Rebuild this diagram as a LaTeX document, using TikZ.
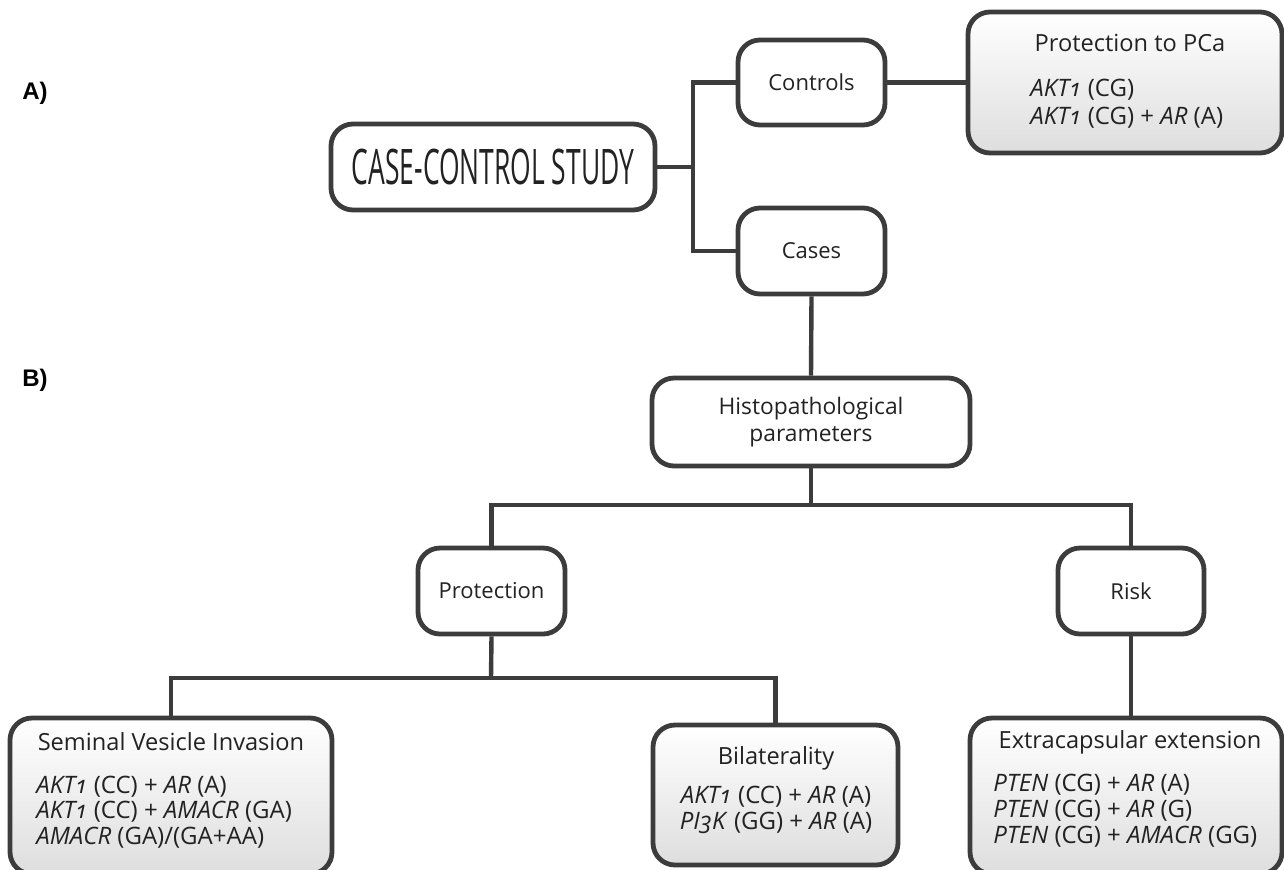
\documentclass[tikz,border=0pt]{standalone}
\usepackage{fontspec}
\setmainfont{Open Sans}[Numbers=OldStyle]
\newfontfamily\condfont{Open Sans}[FakeStretch=0.54]
\newfontfamily\labfont{Liberation Sans}
\definecolor{edge}{HTML}{3C3C3C}
\definecolor{txt}{HTML}{222222}
\tikzset{
 box/.style={draw=edge, line width=2.4pt, rounded corners=11pt, fill=white, inner sep=0pt, text=txt},
 resbox/.style={box, top color=white, bottom color=black!13},
 conn/.style={draw=edge, line width=2.2pt},
 ttl/.style={text=txt, inner sep=0pt, font=\fontsize{11.8}{13}\selectfont},
 body/.style={text=txt, inner sep=0pt, align=left},
 lab/.style={text=black, inner sep=0pt, font=\labfont\bfseries\fontsize{12}{14}\selectfont},
}
\begin{document}
\begin{tikzpicture}[x=0.5pt,y=-0.5pt, font=\fontsize{11}{13}\selectfont]
\useasboundingbox (0,0) rectangle (1284,869);

\node[lab] (la) at (35,93) {A)};
\node[lab] (lb) at (35,380) {B)};

\node[box, minimum width=162pt, minimum height=43pt, font=\condfont\fontsize{24.5}{26}\selectfont] (ccs) at (493,167) {CASE-CONTROL STUDY};
\node[box, minimum width=73.5pt, minimum height=42.5pt] (controls) at (811.5,82.5) {Controls};
\node[box, minimum width=73.5pt, minimum height=43pt] (cases) at (811.5,251) {Cases};
\node[resbox, minimum width=157pt, minimum height=70.5pt] (pca) at (1125,82.5) {};
\node[box, minimum width=159pt, minimum height=44pt, align=center, font=\fontsize{11.4}{13.8}\selectfont] (histo) at (811,422) {Histopathological\\parameters};
\node[box, minimum width=73.5pt, minimum height=43pt] (prot) at (491.5,591) {Protection};
\node[box, minimum width=73pt, minimum height=43pt] (risk) at (1131,591) {Risk};
\node[resbox, minimum width=161pt, minimum height=78pt] (svi) at (171,796) {};
\node[resbox, minimum width=122.5pt, minimum height=70pt] (bilat) at (775.5,795) {};
\node[resbox, minimum width=156pt, minimum height=78pt] (extra) at (1126,796) {};

\node[ttl] (pcat) at (1130,43) {Protection to PCa};
\node[body, anchor=west, font=\fontsize{12}{14}\selectfont] (pcab) at (1030,104) {\textit{AKT1} (CG)\\\textit{AKT1} (CG) + \textit{AR} (A)};

\node[ttl] (svit) at (171,742) {Seminal Vesicle Invasion};
\node[body, anchor=west, font=\fontsize{12}{12.6}\selectfont] (svib) at (36,812) {\textit{AKT1} (CC) + \textit{AR} (A)\\\textit{AKT1} (CC) + \textit{AMACR} (GA)\\\textit{AMACR} (GA)/(GA+AA)};

\node[ttl] (bilatt) at (776,758) {Bilaterality};
\node[body, align=center, font=\fontsize{12}{12.8}\selectfont] (bilatb) at (776,810) {\textit{AKT1} (CC) + \textit{AR} (A)\\\textit{PI3K} (GG) + \textit{AR} (A)};

\node[ttl] (extrat) at (1130,742) {Extracapsular extension};
\node[body, anchor=west, font=\fontsize{12}{13}\selectfont] (extrab) at (993,811) {\textit{PTEN} (CG) + \textit{AR} (A)\\\textit{PTEN} (CG) + \textit{AR} (G)\\\textit{PTEN} (CG) + \textit{AMACR} (GG)};

\coordinate (ja) at (693,167);
\coordinate (jb) at (811,505);
\coordinate (jc) at (491,678);
\draw[conn] (ccs.east) -- (ja);
\draw[conn] (controls.west) -| (ja) |- (cases.west);
\draw[conn] (controls.east) -- (pca.west);
\draw[conn] (cases.south) -- (histo.north);
\draw[conn] (histo.south) -- (jb);
\draw[conn] (prot.north) |- (jb) -| (risk.north);
\draw[conn] (prot.south) -- (jc);
\draw[conn] (svi.north) |- (jc) -| (bilat.north);
\draw[conn] (risk.south) -- (risk.south |- extra.north);
\end{tikzpicture}
\end{document}
